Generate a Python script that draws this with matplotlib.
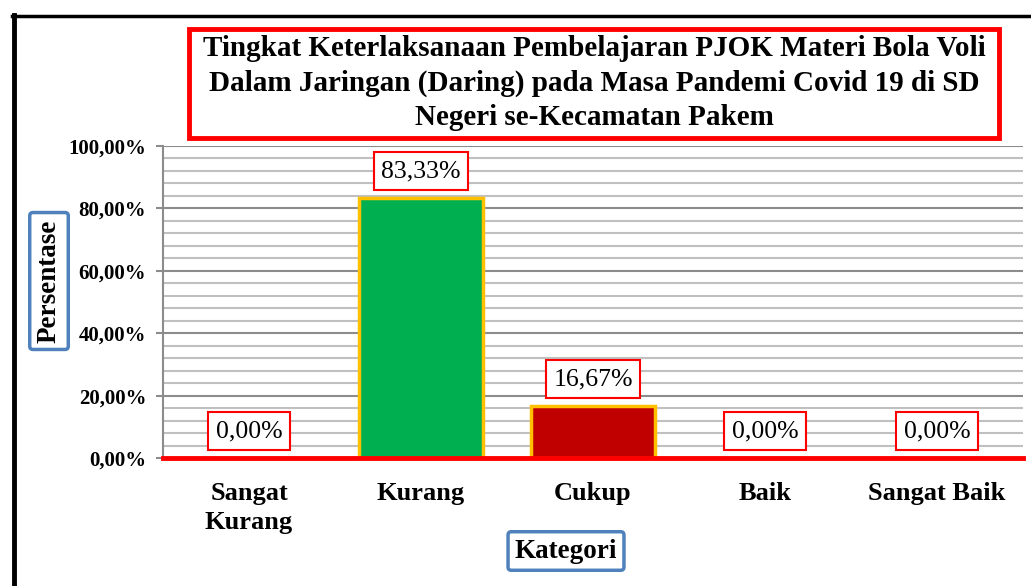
import matplotlib
matplotlib.use("Agg")
import matplotlib.pyplot as plt
from matplotlib.patches import Rectangle
from matplotlib.lines import Line2D
from matplotlib.ticker import MultipleLocator, FuncFormatter

categories = ["Sangat\nKurang", "Kurang", "Cukup", "Baik", "Sangat Baik"]
values = [0.0, 83.33, 16.67, 0.0, 0.0]
value_labels = ["0,00%", "83,33%", "16,67%", "0,00%", "0,00%"]
bar_colors = ["#00B050", "#00B050", "#C00000", "#C00000", "#C00000"]
title = ("Tingkat Keterlaksanaan Pembelajaran PJOK Materi Bola Voli\n"
         "Dalam Jaringan (Daring) pada Masa Pandemi Covid 19 di SD\n"
         "Negeri se-Kecamatan Pakem")
ylabel = "Persentase"
xlabel = "Kategori"

plt.rcParams['font.family'] = ['Liberation Serif', 'DejaVu Serif']

W, H = 1031, 586
fig = plt.figure(figsize=(W / 100, H / 100), dpi=100)

def fx(px):
    return px / W

def fy(py):
    return 1 - py / H

ax = fig.add_axes([fx(163), fy(458), fx(1023) - fx(163), fy(146) - fy(458)])

x = list(range(len(categories)))
ax.bar(x, values, width=0.72, color=bar_colors, edgecolor="#FFC000", linewidth=2.5, zorder=3)

ax.set_xlim(-0.5, len(categories) - 0.5)
ax.set_ylim(0, 100)
ax.yaxis.set_major_locator(MultipleLocator(20))
ax.yaxis.set_minor_locator(MultipleLocator(4))
ax.yaxis.set_major_formatter(FuncFormatter(lambda v, p: f"{v:.2f}".replace(".", ",") + "%"))
ax.grid(which="minor", axis="y", color="#C0C0C0", linewidth=1.5, zorder=0)
ax.grid(which="major", axis="y", color="#8C8C8C", linewidth=1.5, zorder=1)
ax.tick_params(axis="y", which="major", length=5, width=1.5, color="#8C8C8C",
               labelsize=15, pad=7)
ax.tick_params(axis="y", which="minor", length=0)
for lbl in ax.get_yticklabels():
    lbl.set_fontweight("bold")
ax.set_xticks(x)
ax.set_xticklabels(categories, fontsize=19, fontweight="bold", linespacing=1.35)
ax.tick_params(axis="x", length=0, pad=17)

for s in ["top", "right"]:
    ax.spines[s].set_visible(False)
ax.spines["left"].set_color("#8C8C8C")
ax.spines["left"].set_linewidth(1.5)
ax.spines["bottom"].set_color("#FF0000")
ax.spines["bottom"].set_linewidth(3.5)
ax.spines["bottom"].set_zorder(5)

for xi, v, lab in zip(x, values, value_labels):
    ax.annotate(lab, (xi, v), xytext=(0, 27), textcoords="offset pixels",
                ha="center", va="center", fontsize=18.5, zorder=6,
                bbox=dict(boxstyle="square,pad=0.3", fc="white", ec="#FF0000", lw=1.5))

# Title box
fig.patches.append(Rectangle((fx(189), fy(138)), fx(999) - fx(189), fy(29) - fy(138),
                             transform=fig.transFigure, fill=False, ec="#FF0000", lw=3.5))
fig.text(fx(594), fy(83), title, ha="center", va="center", fontsize=21,
         fontweight="bold", linespacing=1.37)

# Y label box
fig.text(fx(49), fy(281), ylabel, rotation=90, ha="center", va="center", fontsize=19.5,
         fontweight="bold",
         bbox=dict(boxstyle="round,pad=0.25,rounding_size=0.12", fc="white", ec="#4F81BD", lw=2.5))

# X label box
fig.text(fx(566), fy(551), xlabel, ha="center", va="center", fontsize=19.5,
         fontweight="bold",
         bbox=dict(boxstyle="round,pad=0.25,rounding_size=0.12", fc="white", ec="#4F81BD", lw=2.5))

# Outer black frame
fig.add_artist(Line2D([fx(14), fx(14)], [fy(15), 0], transform=fig.transFigure, color="black", lw=3.5))
fig.add_artist(Line2D([fx(12), 1], [fy(15.5), fy(15.5)], transform=fig.transFigure, color="black", lw=2.5))

fig.savefig("out.png", dpi=100)
